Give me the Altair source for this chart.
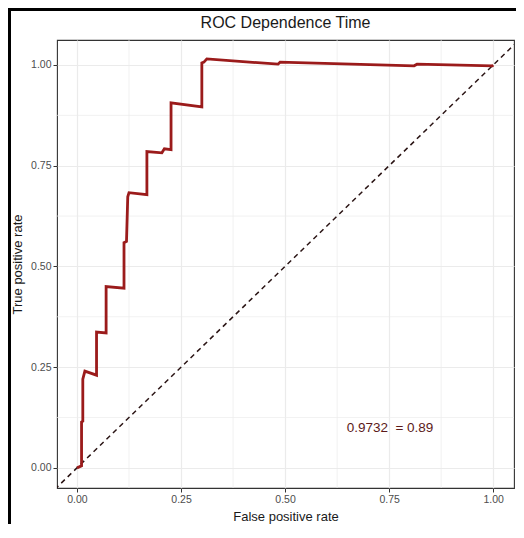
import altair as alt
import pandas as pd

# ROC curve points (false positive rate, true positive rate)
fpr = [0.000, 0.011, 0.011, 0.014, 0.014, 0.019, 0.047, 0.047, 0.070, 0.070, 0.113, 0.113,
       0.119, 0.122, 0.125, 0.168, 0.168, 0.204, 0.210, 0.226, 0.226, 0.300, 0.300, 0.305,
       0.312, 0.483, 0.488, 0.810, 0.817, 0.998, 1.000]
tpr = [0.000, 0.005, 0.114, 0.116, 0.220, 0.240, 0.230, 0.337, 0.335, 0.450, 0.446, 0.559,
       0.562, 0.673, 0.683, 0.678, 0.785, 0.782, 0.792, 0.790, 0.906, 0.896, 1.005, 1.007,
       1.015, 1.002, 1.007, 0.998, 1.002, 0.998, 1.000]

major_breaks = [0.0, 0.25, 0.5, 0.75, 1.0]
minor_breaks = [0.125, 0.375, 0.625, 0.875]
diag = [-0.1, 1.1]
title_text = ["ROC Dependence Time"]
label_text = ["0.9732\u00a0\u00a0=\u00a00.89"]
label_x = [0.752]
label_y = [0.10]

curve_df = pd.DataFrame({"fpr": fpr, "tpr": tpr, "i": range(len(fpr))})
minor_df = pd.DataFrame({"v": minor_breaks})
diag_df = pd.DataFrame({"a": diag})
label_df = pd.DataFrame({"t": label_text, "x": label_x, "y": label_y})
title_df = pd.DataFrame({"t": title_text})

xs = alt.Scale(domain=[-0.048, 1.05], nice=False, zero=False)
ys = alt.Scale(domain=[-0.05, 1.062], nice=False, zero=False)

xaxis = alt.Axis(values=major_breaks, format=".2f", title="False positive rate")
yaxis = alt.Axis(values=major_breaks, format=".2f", title="True positive rate")

minor_x = alt.Chart(minor_df).mark_rule(color="#ebebeb", strokeWidth=0.7).encode(
    x=alt.X("v:Q", scale=xs, axis=xaxis))
minor_y = alt.Chart(minor_df).mark_rule(color="#ebebeb", strokeWidth=0.7).encode(
    y=alt.Y("v:Q", scale=ys, axis=yaxis))

diag_line = alt.Chart(diag_df).mark_line(
    color="#2a1414", strokeWidth=1.5, strokeDash=[5, 4], clip=True
).encode(x=alt.X("a:Q", scale=xs, axis=xaxis), y=alt.Y("a:Q", scale=ys, axis=yaxis))

curve = alt.Chart(curve_df).mark_line(
    color="#9b1b1b", strokeWidth=2.8, strokeJoin="miter", clip=True
).encode(
    x=alt.X("fpr:Q", scale=xs, axis=xaxis),
    y=alt.Y("tpr:Q", scale=ys, axis=yaxis),
    order="i:Q",
)

label = alt.Chart(label_df).mark_text(
    color="#5c1a1a", fontSize=13.5, font="Liberation Sans", align="center", baseline="middle"
).encode(x=alt.X("x:Q", scale=xs, axis=xaxis), y=alt.Y("y:Q", scale=ys, axis=yaxis), text="t:N")

title = alt.Chart(title_df).mark_text(
    color="#1a1a1a", fontSize=16, font="Liberation Sans", align="center",
    baseline="alphabetic", clip=False
).encode(x=alt.value(228.5), y=alt.value(-12), text="t:N")

frame_left = alt.Chart(label_df).mark_rule(color="black", strokeWidth=3, clip=False).encode(
    x=alt.value(-47.5), y=alt.value(-30.5), y2=alt.value(490))
frame_top = alt.Chart(label_df).mark_rule(color="black", strokeWidth=3, clip=False).encode(
    y=alt.value(-30.5), x=alt.value(-49), x2=alt.value(460))

chart = alt.layer(minor_x, minor_y, diag_line, curve, label, title, frame_left, frame_top).properties(
    width=457,
    height=448,
    autosize=alt.AutoSizeParams(type="none"),
    padding={"left": 49, "top": 32, "right": 2, "bottom": 36},
).configure_view(
    stroke="#333333", strokeWidth=1.1
).configure_axis(
    grid=True, gridColor="#ebebeb", gridWidth=1.2,
    domain=False, tickColor="#333333", tickSize=4, tickWidth=1,
    labelColor="#4d4d4d", labelFontSize=10.5, labelFont="Liberation Sans", labelPadding=2,
    titleFont="Liberation Sans", titleFontSize=13, titleFontWeight="normal", titleColor="#1a1a1a",
).configure_axisX(titlePadding=6).configure_axisY(titlePadding=6)

chart.save("out.html", embed_options={"renderer": "svg", "actions": False})
